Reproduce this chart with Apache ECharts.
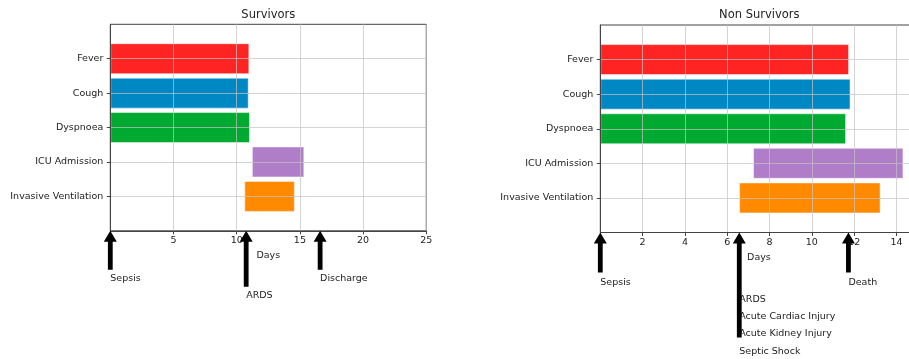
<!DOCTYPE html>
<html>
<head>
<meta charset="utf-8">
<script src="https://cdn.jsdelivr.net/npm/echarts@6/dist/echarts.min.js"></script>
<style>
  html, body { margin: 0; padding: 0; background: #fff; }
  #main { width: 909px; height: 359px; }
</style>
</head>
<body>
<div id="main"></div>
<script>
// data (days since sepsis)
const symptoms = ["Fever", "Cough", "Dyspnoea", "ICU Admission", "Invasive Ventilation"];
const barColors = ["#ff2424", "#0088c4", "#00aa30", "#b07dc9", "#ff8a00"];

const survStart = [0, 0, 0, 11.2, 10.6];
const survEnd = [11.0, 10.95, 11.05, 15.35, 14.6];
const nonSurvStart = [0, 0, 0, 7.22, 6.56];
const nonSurvEnd = [11.76, 11.83, 11.62, 14.33, 13.25];

const survXTicks = { min: 0, max: 25, interval: 5 };
const nonSurvXTicks = { min: 0, max: 15, interval: 2 };

const survEventDays = [0, 10.75, 16.6];
const survEventLabels = ["Sepsis", "ARDS", "Discharge"];
const nonSurvEventDays = [0, 6.57, 11.73];
const nonSurvEventLabels = ["Sepsis", "ARDS\nAcute Cardiac Injury\nAcute Kidney Injury\nSeptic Shock", "Death"];

const FONT = "DejaVu Sans";
const TXT = "#222";
const AX = "#444";

// layout of the two panels (right one runs past the picture edge)
const panels = [
  { left: 110.3, top: 24.3, width: 316, height: 206.5, title: "Survivors", titleX: 268.3 },
  { left: 600.3, top: 25, width: 317.3, height: 207.5, title: "Non Survivors", titleX: 759.3 },
];

// empty categories at both ends give matplotlib-like padding
const cats = [""].concat(symptoms, [""]);
const pad = (arr) => ["-"].concat(arr, ["-"]);

function yAxisFor(i) {
  return {
    type: "category",
    gridIndex: i,
    data: cats,
    inverse: true,
    boundaryGap: false,
    z: 3,
    axisLine: { show: true, lineStyle: { color: AX } },
    axisTick: { show: true, length: 3.5, interval: (idx, v) => v !== "", lineStyle: { color: AX } },
    axisLabel: { margin: 7, fontSize: 9.5, color: TXT, fontFamily: FONT, interval: 0 },
    splitLine: { show: true, interval: (idx, v) => v !== "", lineStyle: { color: "rgba(195,195,195,0.7)" } },
  };
}

function xAxisFor(i, ticks) {
  return {
    type: "value",
    gridIndex: i,
    min: ticks.min,
    max: ticks.max,
    interval: ticks.interval,
    z: 3,
    name: "Days",
    nameLocation: "middle",
    nameGap: 18,
    nameTextStyle: { fontSize: 9.5, color: TXT, fontFamily: FONT },
    axisLine: { show: true, lineStyle: { color: AX } },
    axisTick: { show: true, length: 3.5, lineStyle: { color: AX } },
    axisLabel: {
      margin: 5, fontSize: 9.5, color: TXT, fontFamily: FONT,
      formatter: (v) => (v === 0 || v % ticks.interval !== 0 ? "" : v),
    },
    splitLine: { show: true, lineStyle: { color: "rgba(195,195,195,0.7)" } },
  };
}

function seriesFor(i, start, end) {
  const dur = end.map((e, k) => +(e - start[k]).toFixed(3));
  return [
    {
      type: "bar", xAxisIndex: i, yAxisIndex: i, stack: "p" + i, silent: true,
      barWidth: 31,
      itemStyle: { color: "transparent" },
      data: pad(start),
    },
    {
      type: "bar", xAxisIndex: i, yAxisIndex: i, stack: "p" + i,
      barWidth: 31,
      data: pad(dur).map((v, k) =>
        v === "-" ? v : { value: v, itemStyle: { color: barColors[k - 1], borderColor: "rgba(255,255,255,0.5)", borderWidth: 1 } }
      ),
    },
  ];
}

const option = {
  backgroundColor: "#fff",
  animation: false,
  title: panels.map((p) => ({
    text: p.title,
    left: p.titleX,
    top: 9,
    padding: 0,
    textAlign: "center",
    textStyle: { fontSize: 11.5, fontWeight: "normal", color: TXT, fontFamily: FONT },
  })),
  grid: panels.map((p) => ({
    left: p.left, top: p.top, width: p.width, height: p.height,
    outerBoundsMode: "none",
    show: true, borderColor: AX, borderWidth: 1, backgroundColor: "transparent",
  })),
  xAxis: [xAxisFor(0, survXTicks), xAxisFor(1, nonSurvXTicks)],
  yAxis: [yAxisFor(0), yAxisFor(1)],
  series: seriesFor(0, survStart, survEnd).concat(seriesFor(1, nonSurvStart, nonSurvEnd)),
};

const myChart = echarts.init(document.getElementById("main"));
myChart.setOption(option);

// arrows + event labels under each x axis
const arrowLen = [[39, 56, 39], [40, 105, 40]];
const labelDy = [[48, 65, 48], [50, 67, 50]];
const events = [
  { days: survEventDays, labels: survEventLabels },
  { days: nonSurvEventDays, labels: nonSurvEventLabels },
];

const graphics = [];
events.forEach((ev, i) => {
  const axisY = panels[i].top + panels[i].height;
  ev.days.forEach((d, k) => {
    const x = myChart.convertToPixel({ xAxisIndex: i }, d);
    const len = arrowLen[i][k];
    graphics.push({
      type: "polygon",
      x: x, y: axisY, z: 100,
      shape: { points: [[0, 0], [6.5, 11], [2.4, 11], [2.4, len], [-2.4, len], [-2.4, 11], [-6.5, 11]] },
      style: { fill: "#000" },
    });
    const lh = 17.2;
    graphics.push({
      type: "text",
      x: x, y: axisY + labelDy[i][k] - lh / 2, z: 99,
      style: {
        text: ev.labels[k], fontSize: 9.5, fill: TXT, fontFamily: FONT,
        align: "left", verticalAlign: "top", lineHeight: lh,
      },
    });
  });
});
myChart.setOption({ graphic: graphics });
</script>
</body>
</html>
